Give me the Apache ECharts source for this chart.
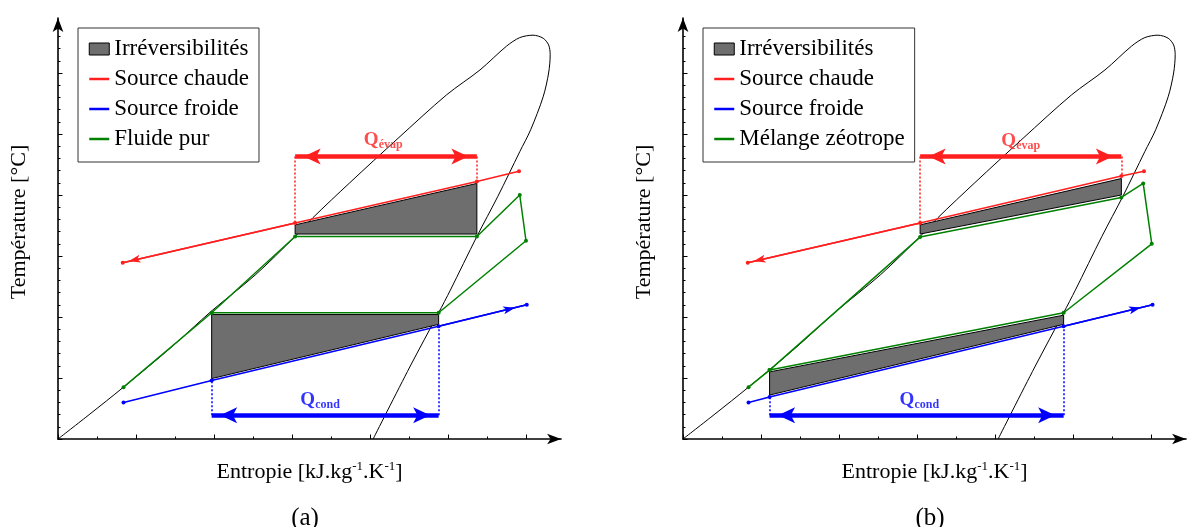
<!DOCTYPE html>
<html><head><meta charset="utf-8">
<script src="https://cdn.jsdelivr.net/npm/echarts@6/dist/echarts.min.js"></script>
<style>html,body{margin:0;padding:0;background:#fff}#c{width:1189px;height:527px}</style>
</head><body><div id="c"></div>
<script>
// ---------- DATA (arbitrary units: 1 unit = one major tick) ----------
// saturation dome (same fluid in both panels)
const dome = [
 [0.00,0.00],[0.41,0.41],[0.83,0.84],[1.44,1.49],[1.97,2.10],[2.53,2.69],[3.04,3.32],[3.27,3.63],
 [3.74,4.20],[4.36,4.93],[4.98,5.64],[5.41,6.05],[5.75,6.44],[5.92,6.58],[6.09,6.62],[6.22,6.57],
 [6.29,6.46],[6.31,6.30],[6.29,6.00],[6.22,5.61],[6.06,5.07],[5.92,4.71],[5.64,3.98],[5.37,3.32],
 [5.03,2.44],[4.88,2.07],[4.51,1.18],[4.04,0.00]
];
// panel (a) : fluide pur
const hotA   = [[0.83,2.89],[3.04,3.54],[5.37,4.22],[5.91,4.39]];
const coldA  = [[0.84,0.60],[1.97,0.96],[4.88,1.85],[6.01,2.20]];
const fluidA = [[0.84,0.85],[1.97,2.07],[3.04,3.32],[5.37,3.32],[5.92,4.00],[6.00,3.25],[4.88,2.07],[1.97,2.07]];
const irrevA = [
 [3.04,3.51, 5.37,4.19, 5.37,3.36, 3.04,3.36],
 [1.97,2.04, 4.88,2.04, 4.88,1.88, 1.97,0.99]
];
const qEvapA = [3.04, 5.37, 4.63];   // x start, x end, y
const qCondA = [1.97, 4.88, 0.39];
const qLabelA = [[4.17,4.90],[3.36,0.64]];
// panel (b) : mélange zéotrope
const hotB   = [[0.83,2.89],[3.04,3.54],[5.62,4.31],[5.91,4.39]];
const coldB  = [[0.84,0.60],[1.11,0.69],[4.88,1.85],[6.02,2.20]];
const fluidB = [[0.84,0.85],[1.11,1.13],[3.04,3.31],[5.62,3.96],[5.90,4.19],[6.01,3.20],[4.88,2.07],[1.11,1.13]];
const irrevB = [
 [3.04,3.51, 5.62,4.27, 5.62,4.00, 3.04,3.36],
 [1.11,1.10, 4.88,2.03, 4.88,1.88, 1.11,0.72]
];
const qEvapB = [3.04, 5.62, 4.63];
const qCondB = [1.11, 4.88, 0.39];
const qLabelB = [[4.33,4.88],[3.03,0.64]];
const qSubs = ['évap','cond'];
// axis extents
const xArrowMax = 6.45, yArrowMax = 6.9, xTickMax = 6, yTickMax = 6, yMinorMax = 6.6;
const legendNames = ['Irréversibilités','Source chaude','Source froide'];
const fluidNames = ['Fluide pur','Mélange zéotrope'];

// ---------- STYLE / LAYOUT ----------
const UX = 78, UY = 61, BASE = 439;
const C_RED = '#ff1f1f', C_BLUE = '#0000ff', C_GREEN = '#008000', C_GRAY = '#6e6e6e';
const FONT = '"Liberation Serif", "Times New Roman", serif';
const panels = [
 {ox:58,  hot:hotA, cold:coldA, fluid:fluidA, irrev:irrevA, qe:qEvapA, qc:qCondA, ql:qLabelA, fname:fluidNames[0], lx:78,  tag:'(a)'},
 {ox:683, hot:hotB, cold:coldB, fluid:fluidB, irrev:irrevB, qe:qEvapB, qc:qCondB, ql:qLabelB, fname:fluidNames[1], lx:703, tag:'(b)'}
];

const grids = [], xAxes = [], yAxes = [], series = [], legends = [], graphics = [];
const tickLine = {color:'#000', width:1};
const hidden = {axisLabel:{show:false}, splitLine:{show:false}};
const QA = [12,17];

function markLines(color, pts, seg, aSize, aOff, q, drops) {
  const solid = {color:color, width:1.5, type:'solid'};
  const dotted = {color:color, width:1.5, type:[2,2]};
  return {
    silent:true, animation:false, label:{show:false}, symbol:'none', lineStyle:solid,
    data:[
      [{coord:pts[seg[0]], symbol:'none', lineStyle:solid},
       {coord:pts[seg[1]], symbol:'arrow', symbolSize:aSize, symbolOffset:[0,aOff]}],
      [{coord:[q[0],q[2]], symbol:'arrow', symbolSize:QA, symbolOffset:[0,'50%'], lineStyle:{color:color,width:4.5,type:'solid'}},
       {coord:[q[1],q[2]], symbol:'arrow', symbolSize:QA, symbolOffset:[0,'50%']}],
      [{coord:[q[0],q[2]], symbol:'none', lineStyle:dotted}, {coord:pts[drops[0]], symbol:'none'}],
      [{coord:[q[1],q[2]], symbol:'none', lineStyle:dotted}, {coord:pts[drops[1]], symbol:'none'}]
    ]
  };
}

panels.forEach(function(p){
  const g0 = grids.length;
  grids.push({left:p.ox, top:BASE - yArrowMax*UY, width:xArrowMax*UX, height:yArrowMax*UY});
  grids.push({left:p.ox, top:BASE - yMinorMax*UY, width:xTickMax*UX, height:yMinorMax*UY});
  grids.push({left:p.ox, top:BASE - yTickMax*UY, width:xTickMax*UX, height:yTickMax*UY});
  const xi = xAxes.length, yi = yAxes.length;
  const arrowLine = {show:true, onZero:false, symbol:['none','arrow'], symbolSize:[8,14], lineStyle:{color:'#000', width:1.6}};
  xAxes.push(Object.assign({gridIndex:g0, type:'value', position:'bottom', min:0, max:xArrowMax, axisLine:arrowLine, axisTick:{show:false},
    name:'Entropie [kJ.kg{sup|-1}.K{sup|-1}]', nameLocation:'middle', nameGap:21,
    nameTextStyle:{fontFamily:FONT, fontSize:22, color:'#000', lineHeight:24,
      rich:{sup:{fontFamily:FONT, fontSize:13, color:'#000', lineHeight:13, verticalAlign:'top'}}}}, hidden));
  xAxes.push(Object.assign({gridIndex:g0+1, type:'value', position:'bottom', min:0, max:xTickMax, interval:0.5, axisLine:{show:false},
    axisTick:{show:true, inside:true, length:2.5, lineStyle:tickLine}}, hidden));
  xAxes.push(Object.assign({gridIndex:g0+1, type:'value', position:'bottom', offset:0, min:0, max:xTickMax, interval:1, axisLine:{show:false},
    axisTick:{show:true, inside:true, length:4.5, lineStyle:tickLine}}, hidden));
  xAxes.push({gridIndex:g0+2, type:'value', position:'bottom', min:0, max:xTickMax, show:false});
  yAxes.push(Object.assign({gridIndex:g0, type:'value', position:'left', min:0, max:yArrowMax, axisLine:arrowLine, axisTick:{show:false}}, hidden));
  yAxes.push(Object.assign({gridIndex:g0+1, type:'value', position:'left', min:0, max:yMinorMax, interval:0.2, axisLine:{show:false},
    axisTick:{show:true, inside:true, length:2.5, lineStyle:tickLine}}, hidden));
  yAxes.push(Object.assign({gridIndex:g0+2, type:'value', position:'left', min:0, max:yTickMax, interval:1, axisLine:{show:false},
    axisTick:{show:true, inside:true, length:4.5, lineStyle:tickLine}}, hidden));

  const ax = {xAxisIndex:xi, yAxisIndex:yi};
  series.push(Object.assign({type:'line', name:'Saturation', data:dome, symbol:'none', smooth:0.3, silent:true, z:1,
    lineStyle:{color:'#000', width:1}, itemStyle:{color:'#000'}}, ax));
  series.push(Object.assign({type:'custom', name:legendNames[0], data:p.irrev, z:2, silent:true,
    encode:{x:[0,2,4,6], y:[1,3,5,7]},
    itemStyle:{color:C_GRAY, borderColor:'#000', borderWidth:1},
    renderItem:function(params, api){
      const pts = [0,1,2,3].map(function(i){ return api.coord([api.value(2*i), api.value(2*i+1)]); });
      return {type:'polygon', shape:{points:pts}, style:{fill:C_GRAY, stroke:'#000', lineWidth:1}};
    }}, ax));
  series.push(Object.assign({type:'line', name:legendNames[1], data:p.hot, z:4, symbol:'circle', symbolSize:4, showAllSymbol:true,
    lineStyle:{color:C_RED, width:1.5}, itemStyle:{color:C_RED}, silent:true,
    markLine:markLines(C_RED, p.hot, [1,0], [6,12], '50%', p.qe, [1,2])}, ax));
  series.push(Object.assign({type:'line', name:legendNames[2], data:p.cold, z:4, symbol:'circle', symbolSize:4, showAllSymbol:true,
    lineStyle:{color:C_BLUE, width:1.5}, itemStyle:{color:C_BLUE}, silent:true,
    markLine:markLines(C_BLUE, p.cold, [2,3], [6,12], '100%', p.qc, [1,2])}, ax));
  series.push(Object.assign({type:'line', name:p.fname, data:p.fluid, z:5, symbol:'circle', symbolSize:4, showAllSymbol:true,
    lineStyle:{color:C_GREEN, width:1.5}, itemStyle:{color:C_GREEN}, silent:true}, ax));
  series.push(Object.assign({type:'scatter', name:'Q', z:6, symbolSize:0, silent:true, itemStyle:{color:'transparent'},
    data:p.ql.map(function(v,i){ const c = i ? C_BLUE : C_RED;
      return {value:v, name:qSubs[i], label:{color:c, rich:{q:{color:c}, s:{color:c}}}}; }),
    label:{show:true, position:'inside', formatter:function(d){ return '{q|Q}{s|' + d.name + '}'; },
      rich:{q:{fontFamily:FONT, fontSize:19, fontWeight:'bold', lineHeight:22},
            s:{fontFamily:FONT, fontSize:12, fontWeight:'bold', lineHeight:12, verticalAlign:'bottom'}}}}, ax));

  legends.push({
    left:p.lx, top:28, orient:'vertical', align:'left', selectedMode:false,
    itemWidth:20, itemHeight:12, itemGap:6, padding:[9,10,11,10],
    borderColor:'#333', borderWidth:1, backgroundColor:'#fff',
    textStyle:{fontFamily:FONT, fontSize:23, color:'#000', lineHeight:24},
    data:[
      {name:legendNames[0], icon:'rect', itemStyle:{borderWidth:1, borderColor:'#000'}},
      {name:legendNames[1], itemStyle:{opacity:0}, lineStyle:{width:2.5}},
      {name:legendNames[2], itemStyle:{opacity:0}, lineStyle:{width:2.5}},
      {name:p.fname, itemStyle:{opacity:0}, lineStyle:{width:2.5}}
    ]
  });
  graphics.push({type:'text', x:p.ox - 38.5, y:222, rotation:Math.PI/2, silent:true,
    style:{text:'Température [°C]', fontFamily:FONT, fontSize:22, fill:'#000', align:'center', verticalAlign:'middle'}});
  graphics.push({type:'text', x:p.ox + 247, y:518, silent:true,
    style:{text:p.tag, fontFamily:FONT, fontSize:25, fill:'#000', align:'center', verticalAlign:'middle'}});
});

const chart = echarts.init(document.getElementById('c'), null, {renderer:'canvas'});
chart.setOption({
  animation:false,
  backgroundColor:'#fff',
  textStyle:{fontFamily:FONT},
  grid:grids, xAxis:xAxes, yAxis:yAxes, series:series, legend:legends, graphic:graphics
});
</script>
</body></html>
